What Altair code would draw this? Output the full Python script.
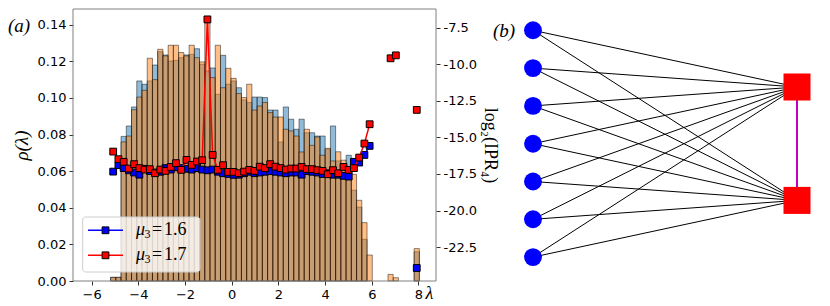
import altair as alt
import pandas as pd

# ---------------- data ----------------
LAM_MIN = -5.19      # left edge of first histogram bin
BIN_W = 0.2242       # histogram bin width (59 bins)

BLUE_HIST = [0.002, 0.002, 0.079, 0.0847, 0.0951, 0.1093, 0.1075, 0.1093, 0.1180, 0.1253,
             0.1235, 0.1202, 0.1205, 0.1220, 0.1235, 0.1238, 0.1269, 0.1184, 0.1148, 0.1164,
             0.1020, 0.1233, 0.1075, 0.1093, 0.1056, 0.0989, 0.0975, 0.1005, 0.1005, 0.1002,
             0.0934, 0.0934, 0.0760, 0.0951, 0.0884, 0.0829, 0.0884, 0.0810, 0.0810, 0.0792,
             0.0792, 0.0720, 0.0847, 0.0656, 0.0640, 0.0687, 0.0496, 0.0404, 0.0228, 0.0,
             0.0, 0.0, 0.0, 0.0, 0.0, 0.0, 0.0, 0.0, 0.0160]
ORANGE_HIST = [0.002, 0.002, 0.076, 0.0792, 0.0936, 0.1005, 0.1042, 0.1217, 0.1100, 0.1266,
               0.1230, 0.1288, 0.1288, 0.1248, 0.1230, 0.1288, 0.1220, 0.1197, 0.1410, 0.1111,
               0.1288, 0.1056, 0.1162, 0.1107, 0.1024, 0.1002, 0.1075, 0.0934, 0.0956, 0.0975,
               0.0920, 0.0896, 0.0896, 0.0829, 0.0820, 0.0792, 0.0705, 0.0829, 0.0741, 0.0787,
               0.0687, 0.0725, 0.0656, 0.0706, 0.0660, 0.0620, 0.0583, 0.0441, 0.0319, 0.0142,
               0.0, 0.0, 0.0, 0.0036, 0.0018, 0.0, 0.0, 0.0, 0.0177]

# log2(IPR4) per bin (bins 0..49), plus isolated bins
BLUE_MAIN = [-17.34, -16.90, -17.10, -17.25, -17.40, -17.55, -17.15, -17.30, -17.40, -17.35,
             -17.10, -17.20, -17.05, -17.10, -17.15, -17.20, -17.10, -17.20, -17.25, -17.20,
             -17.35, -17.45, -17.50, -17.56, -17.55, -17.45, -17.35, -17.45, -17.40, -17.35,
             -17.30, -17.35, -17.40, -17.45, -17.40, -17.40, -17.55, -17.30, -17.35, -17.40,
             -17.50, -17.45, -17.55, -17.55, -17.63, -17.68, -16.67, -16.72, -16.20, -15.58]
BLUE_EXTRA_BINS = [58]
BLUE_EXTRA_VALS = [-23.93]
BLUE_EXTRA_SEG = ["c"]

RED_MAIN = [-15.97, -16.49, -16.67, -17.13, -16.83, -17.10, -17.20, -17.17, -17.45, -17.20,
            -17.29, -17.02, -16.76, -17.22, -16.54, -16.88, -16.65, -16.56, -6.93, -16.20,
            -17.22, -16.90, -17.36, -17.36, -17.45, -17.34, -17.22, -17.29, -17.00, -17.10,
            -16.83, -17.00, -17.10, -17.20, -17.13, -17.13, -17.02, -17.17, -17.17, -17.24,
            -17.29, -17.52, -17.24, -17.45, -17.02, -17.22, -17.10, -16.38, -15.42, -14.10]
RED_EXTRA_BINS = [53, 54, 58]
RED_EXTRA_VALS = [-9.59, -9.39, -13.12]
RED_EXTRA_SEG = ["b", "b", "c"]

LEGEND_SUB = ["3", "3"]
LEGEND_VAL = ["1.6", "1.7"]
LEGEND_COL = ["#0000ff", "#ff0000"]

X_TICKS = [-6, -4, -2, 0, 2, 4, 6, 8]
Y_TICKS = [0.0, 0.02, 0.04, 0.06, 0.08, 0.10, 0.12, 0.14]
R_TICKS = [-22.5, -20.0, -17.5, -15.0, -12.5, -10.0, -7.5]

N_LEFT = 7
RED_NODE_Y = [1.5, 4.5]

# ---------------- tables ----------------
def hist_df(heights):
    rows = []
    for i, h in enumerate(heights):
        if h > 0:
            x0 = LAM_MIN + i * BIN_W
            rows.append({"x0": x0, "x1": x0 + BIN_W, "h": h, "z": 0.0})
    return pd.DataFrame(rows)

def ipr_df(main, ebins, evals, esegs):
    rows = [{"lam": LAM_MIN + (i + 0.5) * BIN_W, "v": v, "seg": "a"} for i, v in enumerate(main)]
    rows += [{"lam": LAM_MIN + (b + 0.5) * BIN_W, "v": v, "seg": s}
             for b, v, s in zip(ebins, evals, esegs)]
    return pd.DataFrame(rows)

hb = hist_df(BLUE_HIST)
ho = hist_df(ORANGE_HIST)
lb = ipr_df(BLUE_MAIN, BLUE_EXTRA_BINS, BLUE_EXTRA_VALS, BLUE_EXTRA_SEG)
lr = ipr_df(RED_MAIN, RED_EXTRA_BINS, RED_EXTRA_VALS, RED_EXTRA_SEG)

W, H = 363, 272
xs = alt.Scale(domain=[-6.8, 8.75], nice=False, zero=False)
ys = alt.Scale(domain=[0, 0.1486], nice=False, zero=False)
yr = alt.Scale(domain=[-24.82, -6.22], nice=False, zero=False)

common_axis = dict(labelFont="DejaVu Sans", labelFontSize=13, labelColor="black",
                   tickColor="#333", tickSize=4, domain=False, grid=False, labelPadding=3)

x_axis = alt.Axis(values=X_TICKS, format="d", title="λ", titleFont="Liberation Serif",
                  titleFontStyle="italic", titleFontWeight="normal", titleFontSize=18,
                  titleX=356, titleY=12, titleAlign="center", titleBaseline="middle",
                  **common_axis)
y_axis = alt.Axis(orient="left", values=Y_TICKS, format=".2f", title="ρ(λ)",
                  titleFont="Liberation Serif", titleFontStyle="italic",
                  titleFontWeight="normal", titleFontSize=19, titlePadding=6, **common_axis)
r_axis = alt.Axis(orient="right", values=R_TICKS, format=".1f",
                  labelExpr="replace(datum.label, '\u2212', '-')",
                  title="log₂(IPR₄)", titleFont="Liberation Serif", titleFontWeight="normal",
                  titleFontSize=18, titleAngle=90, titlePadding=4, **common_axis)

def bar_layer(df, col):
    return alt.Chart(df).mark_rect(fill=col, fillOpacity=0.5, stroke="black",
                                   strokeOpacity=0.45, strokeWidth=1).encode(
        x=alt.X("x0:Q", scale=xs, axis=x_axis, title="λ"), x2="x1:Q",
        y=alt.Y("h:Q", scale=ys, axis=y_axis, title="ρ(λ)"), y2="z:Q")

def series_layers(df, col):
    enc = dict(x=alt.X("lam:Q", scale=xs, axis=x_axis, title="λ"),
               y=alt.Y("v:Q", scale=yr, axis=r_axis, title="log₂(IPR₄)"))
    ln = alt.Chart(df).mark_line(color=col, strokeWidth=1.5).encode(
        detail="seg:N", order="lam:Q", **enc)
    pt = alt.Chart(df).mark_point(shape="square", filled=True, fill=col, stroke="black",
                                  strokeWidth=1, opacity=1, size=46).encode(**enc)
    return [ln, pt]

hist = alt.layer(bar_layer(hb, "#1f77b4"), bar_layer(ho, "#ff7f0e"))
lines = alt.layer(*(series_layers(lb, "#0000ff") + series_layers(lr, "#ff0000")))
data_part = alt.layer(hist, lines).resolve_scale(y="independent")

one = pd.DataFrame({"k": [0]})
frame = alt.Chart(one).mark_rect(fillOpacity=0, stroke="#808080", strokeWidth=1).encode(
    x=alt.value(0), x2=alt.value(W), y=alt.value(0), y2=alt.value(H))

# legend (drawn by hand, matplotlib style)
leg_layers = [alt.Chart(one).mark_rect(
    fill="white", fillOpacity=0.8, stroke="#cccccc", strokeWidth=1, cornerRadius=3).encode(
    x=alt.value(9.7), x2=alt.value(127), y=alt.value(208), y2=alt.value(263))]
for k, (col, sub, val) in enumerate(zip(LEGEND_COL, LEGEND_SUB, LEGEND_VAL)):
    ly = 221.3 + 25 * k
    leg_layers += [
        alt.Chart(one).mark_rule(color=col, strokeWidth=1.5).encode(
            x=alt.value(15), x2=alt.value(50), y=alt.value(ly)),
        alt.Chart(one).mark_point(shape="square", filled=True, fill=col, stroke="black",
                                  strokeWidth=1, opacity=1, size=46).encode(
            x=alt.value(32.5), y=alt.value(ly)),
        alt.Chart(one).mark_text(text="μ", font="Liberation Serif", fontStyle="italic",
                                 fontSize=18, align="left", baseline="middle").encode(
            x=alt.value(63), y=alt.value(ly)),
        alt.Chart(one).mark_text(text=sub, font="Liberation Serif", fontSize=12,
                                 align="left", baseline="middle").encode(
            x=alt.value(71.5), y=alt.value(ly + 4)),
        alt.Chart(one).mark_text(text="=", font="Liberation Serif", fontSize=18,
                                 align="left", baseline="middle").encode(
            x=alt.value(79), y=alt.value(ly)),
        alt.Chart(one).mark_text(text=val, font="Liberation Serif", fontSize=18,
                                 align="left", baseline="middle").encode(
            x=alt.value(91), y=alt.value(ly)),
    ]

lab_a = alt.Chart(one).mark_text(text="(a)", font="Liberation Serif", fontStyle="italic",
                                 fontSize=19, align="left", baseline="middle").encode(
    x=alt.value(-65), y=alt.value(17))
lab_b = alt.Chart(one).mark_text(text="(b)", font="Liberation Serif", fontStyle="italic",
                                 fontSize=19, align="left", baseline="middle").encode(
    x=alt.value(420), y=alt.value(22))

left = alt.layer(data_part, frame, *leg_layers, lab_a, lab_b).properties(width=W, height=H)

# ---------------- graph panel ----------------
blue_nodes = pd.DataFrame({"x": [0.0] * N_LEFT, "y": [float(i) for i in range(N_LEFT)]})
red_nodes = pd.DataFrame({"x": [1.0] * len(RED_NODE_Y), "y": RED_NODE_Y})
edges = pd.DataFrame([{"x": 0.0, "y": float(i), "x2": 1.0, "y2": ry}
                      for i in range(N_LEFT) for ry in RED_NODE_Y])
medge = pd.DataFrame({"x": [1.0], "y": [RED_NODE_Y[0]], "x2": [1.0], "y2": [RED_NODE_Y[1]]})

GW, GH = 292, 272
gx = alt.Scale(domain=[-12 / 264, (GW - 12) / 264], nice=False, zero=False)
gy = alt.Scale(domain=[-21.3 / 37.8, (GH - 21.3) / 37.8], nice=False, zero=False, reverse=True)

g_edges = alt.Chart(edges).mark_rule(color="black", strokeWidth=1).encode(
    x=alt.X("x:Q", scale=gx, axis=None), x2="x2:Q",
    y=alt.Y("y:Q", scale=gy, axis=None), y2="y2:Q")
g_m = alt.Chart(medge).mark_rule(color="#bf00bf", strokeWidth=2).encode(
    x=alt.X("x:Q", scale=gx, axis=None), x2="x2:Q",
    y=alt.Y("y:Q", scale=gy, axis=None), y2="y2:Q")
g_blue = alt.Chart(blue_nodes).mark_point(shape="circle", filled=True, color="#0000ff",
                                          opacity=1, size=320).encode(
    x=alt.X("x:Q", scale=gx, axis=None), y=alt.Y("y:Q", scale=gy, axis=None))
g_red = alt.Chart(red_nodes).mark_point(shape="square", filled=True, color="#ff0000",
                                        opacity=1, size=730).encode(
    x=alt.X("x:Q", scale=gx, axis=None), y=alt.Y("y:Q", scale=gy, axis=None))

right = alt.layer(g_edges, g_m, g_blue, g_red).properties(width=GW, height=GH)

chart = alt.hconcat(left, right, spacing=5).configure_view(stroke=None).properties(
    background="white", padding=0)

chart.save("out.html", embed_options={"renderer": "svg", "actions": False})
